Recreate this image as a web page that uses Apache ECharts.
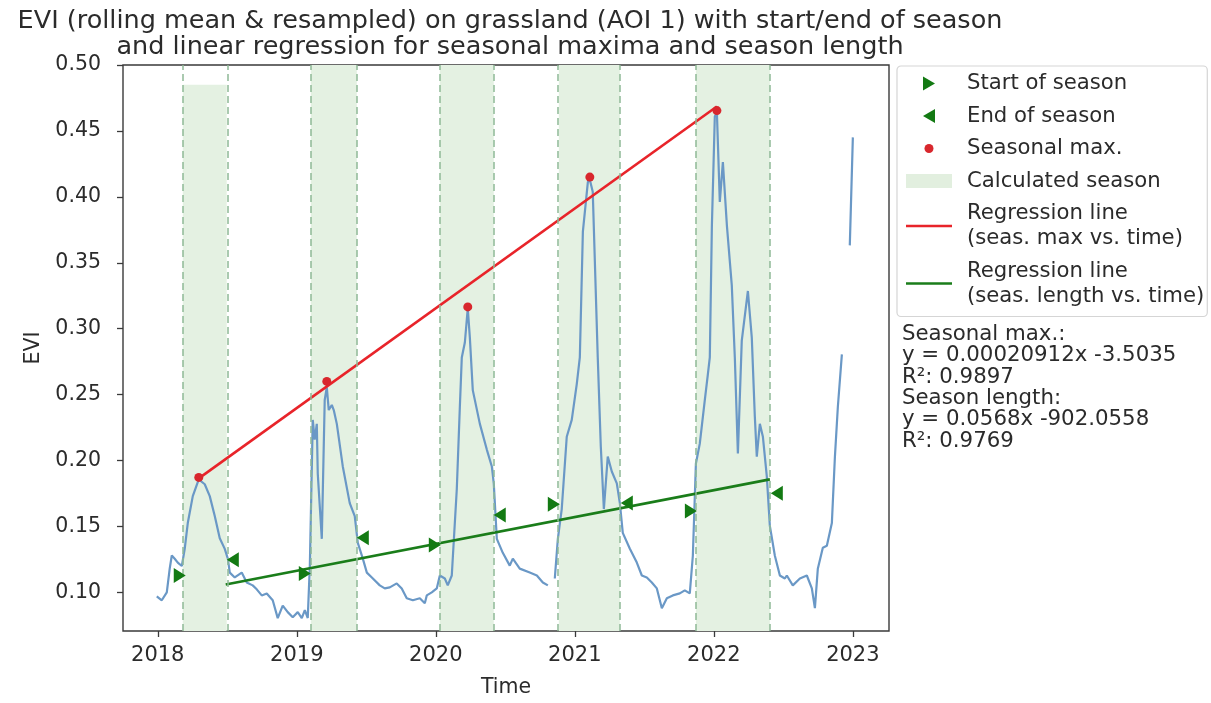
<!DOCTYPE html>
<html>
<head>
<meta charset="utf-8">
<script src="https://cdn.jsdelivr.net/npm/echarts@6/dist/echarts.min.js"></script>
<style>
  html, body { margin: 0; padding: 0; background: #fff; }
  #chart { width: 1211px; height: 703px; }
</style>
</head>
<body>
<div id="chart"></div>
<script>
// ---------------- data (decimal years / EVI) ----------------
const xTicks = [2018, 2019, 2020, 2021, 2022, 2023];
const yTicks = [0.10, 0.15, 0.20, 0.25, 0.30, 0.35, 0.40, 0.45, 0.50];

// EVI curve, null = gap in the series
const eviX = [
  2017.993, 2018.029, 2018.065, 2018.086, 2018.101, 2018.122, 2018.144, 2018.173, 2018.194, 2018.216,
  2018.252, 2018.295, 2018.338, 2018.374, 2018.410, 2018.446, 2018.482, 2018.504, 2018.518, 2018.554,
  2018.604, 2018.640, 2018.683, 2018.712, 2018.748, 2018.784, 2018.827, 2018.863, 2018.899, 2018.935,
  2018.971, 2019.007, 2019.036, 2019.058, 2019.079, 2019.094, 2019.115, 2019.129, 2019.144, 2019.151,
  2019.180, 2019.201, 2019.216, 2019.230, 2019.252, 2019.266, 2019.288, 2019.331, 2019.381, 2019.417,
  2019.439, 2019.475, 2019.504, 2019.540, 2019.597, 2019.633, 2019.669, 2019.719, 2019.755, 2019.791,
  2019.835, 2019.885, 2019.921, 2019.935, 2019.971, 2020.007, 2020.029, 2020.065, 2020.086, 2020.115,
  2020.151, 2020.173, 2020.187, 2020.209, 2020.230, 2020.245, 2020.266, 2020.317, 2020.367, 2020.403,
  2020.417, 2020.439, 2020.482, 2020.532, 2020.554, 2020.604, 2020.676, 2020.727, 2020.770, 2020.806,
  2020.830,
  2020.856, 2020.878, 2020.906, 2020.942, 2020.978, 2021.014, 2021.036, 2021.058, 2021.094, 2021.108,
  2021.129, 2021.165, 2021.187, 2021.209, 2021.237, 2021.266, 2021.302, 2021.324, 2021.345, 2021.396,
  2021.446, 2021.482, 2021.518, 2021.554, 2021.590, 2021.626, 2021.662, 2021.705, 2021.755, 2021.791,
  2021.827, 2021.849, 2021.871, 2021.899, 2021.935, 2021.957, 2021.971, 2021.986, 2022.007, 2022.022,
  2022.043, 2022.065, 2022.094, 2022.129, 2022.151, 2022.173, 2022.201, 2022.245, 2022.273, 2022.295,
  2022.309, 2022.331, 2022.353, 2022.381, 2022.403, 2022.439, 2022.475, 2022.511, 2022.525, 2022.568,
  2022.619, 2022.669, 2022.705, 2022.727, 2022.748, 2022.784, 2022.813, 2022.849, 2022.871, 2022.892,
  2022.921,
  2022.950,
  2022.978, 2023.000
];
const eviY = [
  0.097, 0.094, 0.100, 0.118, 0.128, 0.1255, 0.1226, 0.120, 0.133, 0.1526,
  0.173, 0.1857, 0.182, 0.173, 0.158, 0.141, 0.133, 0.1256, 0.115, 0.1113,
  0.115, 0.1075, 0.1053, 0.1023, 0.0977, 0.0992, 0.094, 0.0805, 0.090, 0.085,
  0.0812, 0.085, 0.0805, 0.0865, 0.0805, 0.1203, 0.2308, 0.2158, 0.2278, 0.190,
  0.1406, 0.2459, 0.2556, 0.2383, 0.2421, 0.2383, 0.2278, 0.1955, 0.1677, 0.1579,
  0.1376, 0.1256, 0.115, 0.1113, 0.1053, 0.103, 0.1038, 0.1068, 0.103, 0.0955,
  0.094, 0.0955, 0.0917, 0.0977, 0.100, 0.103, 0.1128, 0.1105, 0.1053, 0.1128,
  0.1782, 0.2406, 0.2782, 0.2895, 0.3155, 0.2932, 0.2534, 0.2278, 0.2083, 0.1955,
  0.1827, 0.1406, 0.130, 0.1203, 0.1256, 0.118, 0.115, 0.1128, 0.1075, 0.1053,
  null,
  0.1105, 0.1406, 0.1632, 0.218, 0.2308, 0.2579, 0.2782, 0.3737, 0.4113, 0.413,
  0.4038, 0.2782, 0.2105, 0.1632, 0.203, 0.1917, 0.1827, 0.1677, 0.1451, 0.1331,
  0.1226, 0.1128, 0.1113, 0.1075, 0.103, 0.088, 0.0955, 0.0977, 0.0992, 0.1015,
  0.0992, 0.1278, 0.1977, 0.2128, 0.2459, 0.2654, 0.2782, 0.3782, 0.4609, 0.4640,
  0.3962, 0.4263, 0.3782, 0.3331, 0.2782, 0.2053, 0.291, 0.3286, 0.2932, 0.2331,
  0.203, 0.2278, 0.218, 0.188, 0.1504, 0.1278, 0.1128, 0.1105, 0.1128, 0.1053,
  0.1105, 0.1128, 0.103, 0.088, 0.118, 0.1338, 0.1353, 0.1526, 0.203, 0.2406,
  0.2805,
  null,
  0.3632, 0.4451
];

// calculated seasons
const seasonStart = [2018.180, 2019.101, 2020.029, 2020.885, 2021.871];
const seasonEnd   = [2018.496, 2019.432, 2020.417, 2021.324, 2022.403];
const seasonTop   = [0.485, 0.50, 0.50, 0.50, 0.50];

// start / end of season markers
const sosX = [2018.158, 2019.058, 2019.993, 2020.849, 2021.835];
const sosY = [0.1128, 0.1143, 0.1360, 0.1669, 0.1617];
const eosX = [2018.540, 2019.475, 2020.460, 2021.374, 2022.453];
const eosY = [0.1248, 0.1414, 0.1586, 0.1677, 0.1752];

// seasonal maxima
const maxX = [2018.295, 2019.216, 2020.230, 2021.108, 2022.022];
const maxY = [0.1872, 0.2600, 0.3165, 0.4150, 0.4654];

// regression lines
const regMaxX = [2018.295, 2022.022];
const regMaxY = [0.1865, 0.4685];
const regLenX = [2018.489, 2022.403];
const regLenY = [0.1060, 0.1857];

const annotationLines = [
  'Seasonal max.:',
  'y = 0.00020912x -3.5035',
  'R\u00b2: 0.9897',
  'Season length:',
  'y = 0.0568x -902.0558',
  'R\u00b2: 0.9769'
];

// ---------------- build ----------------
const FONT = 'DejaVu Sans';
const TXT = '#2b2b2b';
const zip = (xs, ys) => xs.map((x, i) => [x, ys[i] === null ? '-' : ys[i]]);

const areaData = seasonStart.map((s, i) => [
  { xAxis: s, yAxis: 0.0707 },
  { xAxis: seasonEnd[i], yAxis: seasonTop[i] }
]);
const lineData = [];
seasonStart.forEach((s, i) => { lineData.push({ xAxis: s }); lineData.push({ xAxis: seasonEnd[i] }); });

const triRight = 'path://M0,0L12,7L0,14Z';
const triLeft  = 'path://M12,0L0,7L12,14Z';
const dotIcon  = 'path://M0,0M14,14M11.5,7A4.5,4.5 0 1 1 2.5,7A4.5,4.5 0 1 1 11.5,7Z';
const lineIcon = 'path://M0,0H46V2.6H0Z';

const chart = echarts.init(document.getElementById('chart'), null, { renderer: 'canvas' });
chart.setOption({
  animation: false,
  backgroundColor: '#ffffff',
  textStyle: { fontFamily: FONT },
  title: {
    text: 'EVI (rolling mean & resampled) on grassland (AOI 1) with start/end of season\nand linear regression for seasonal maxima and season length',
    left: 505,
    top: 3,
    textAlign: 'center',
    textStyle: { fontFamily: FONT, fontSize: 25.5, fontWeight: 'normal', color: TXT, lineHeight: 26 }
  },
  grid: { left: 123, right: 322, top: 65, bottom: 67, show: true, borderColor: '#3a3a3a', borderWidth: 1.4, backgroundColor: 'transparent' },
  xAxis: {
    type: 'value', min: 2017.75, max: 2023.26,
    name: 'Time', nameLocation: 'middle', nameGap: 46,
    nameTextStyle: { fontFamily: FONT, fontSize: 20.5, color: TXT },
    axisLine: { show: false },
    axisTick: { show: true, length: 6, customValues: xTicks, lineStyle: { color: '#3a3a3a', width: 1.3 } },
    axisLabel: { customValues: xTicks, margin: 14, fontFamily: FONT, fontSize: 21, color: TXT, formatter: v => String(Math.round(v)) },
    splitLine: { show: false }
  },
  yAxis: {
    type: 'value', min: 0.0707, max: 0.50,
    name: 'EVI', nameLocation: 'middle', nameGap: 70, nameRotate: 90,
    nameTextStyle: { fontFamily: FONT, fontSize: 20.5, color: TXT },
    axisLine: { show: false },
    axisTick: { show: true, length: 6, customValues: yTicks, lineStyle: { color: '#3a3a3a', width: 1.3 } },
    axisLabel: { customValues: yTicks, margin: 22, fontFamily: FONT, fontSize: 20.5, color: TXT, formatter: v => v.toFixed(2) },
    splitLine: { show: false }
  },
  legend: {
    orient: 'vertical',
    left: 897, top: 66,
    padding: [5, 3, 8, 9],
    itemGap: 7.5,
    itemWidth: 46, itemHeight: 14,
    borderColor: '#d5d5d5', borderWidth: 1.2, borderRadius: 4,
    selectedMode: false,
    textStyle: { fontFamily: FONT, fontSize: 21.2, color: TXT, lineHeight: 25, padding: [0, 0, 0, 10] },
    data: [
      { name: 'Start of season', icon: triRight },
      { name: 'End of season', icon: triLeft },
      { name: 'Seasonal max.', icon: dotIcon },
      { name: 'Calculated season', icon: 'rect', itemStyle: { color: '#e2efdf' } },
      { name: 'Regression line\n(seas. max vs. time)', icon: lineIcon },
      { name: 'Regression line\n(seas. length vs. time)', icon: lineIcon }
    ]
  },
  graphic: [{
    type: 'text', left: 902, top: 324, silent: true,
    style: { text: annotationLines.join('\n'), fontFamily: FONT, fontSize: 21.3, lineHeight: 21.3, fill: TXT }
  }],
  series: [
    {
      name: 'Calculated season', type: 'line', data: [], z: 1,
      color: '#e2efdf',
      markArea: { silent: true, itemStyle: { color: '#e4f1e2' }, data: areaData },
      markLine: {
        silent: true, symbol: ['none', 'none'], label: { show: false },
        lineStyle: { color: '#8fb996', type: [7, 4], width: 1.5 },
        data: lineData
      }
    },
    {
      name: 'EVI', type: 'line', data: zip(eviX, eviY), z: 2,
      showSymbol: false, symbol: 'none', connectNulls: false,
      lineStyle: { color: '#6a98c6', width: 2.2 }
    },
    {
      name: 'Regression line\n(seas. max vs. time)', type: 'line', data: zip(regMaxX, regMaxY), z: 3,
      showSymbol: false, symbol: 'none', color: '#e8242a',
      lineStyle: { color: '#e8242a', width: 2.6 }
    },
    {
      name: 'Regression line\n(seas. length vs. time)', type: 'line', data: zip(regLenX, regLenY), z: 3,
      showSymbol: false, symbol: 'none', color: '#1a7d1a',
      lineStyle: { color: '#1a7d1a', width: 2.6 }
    },
    {
      name: 'Seasonal max.', type: 'scatter', data: zip(maxX, maxY), z: 4,
      symbol: 'circle', symbolSize: 9, itemStyle: { color: '#d8272d', opacity: 1 }
    },
    {
      name: 'Start of season', type: 'scatter', data: zip(sosX, sosY), z: 5,
      symbol: triRight, symbolSize: [12, 15], itemStyle: { color: '#137a13', opacity: 1 }
    },
    {
      name: 'End of season', type: 'scatter', data: zip(eosX, eosY), z: 5,
      symbol: triLeft, symbolSize: [12, 15], itemStyle: { color: '#137a13', opacity: 1 }
    }
  ]
});
</script>
</body>
</html>
